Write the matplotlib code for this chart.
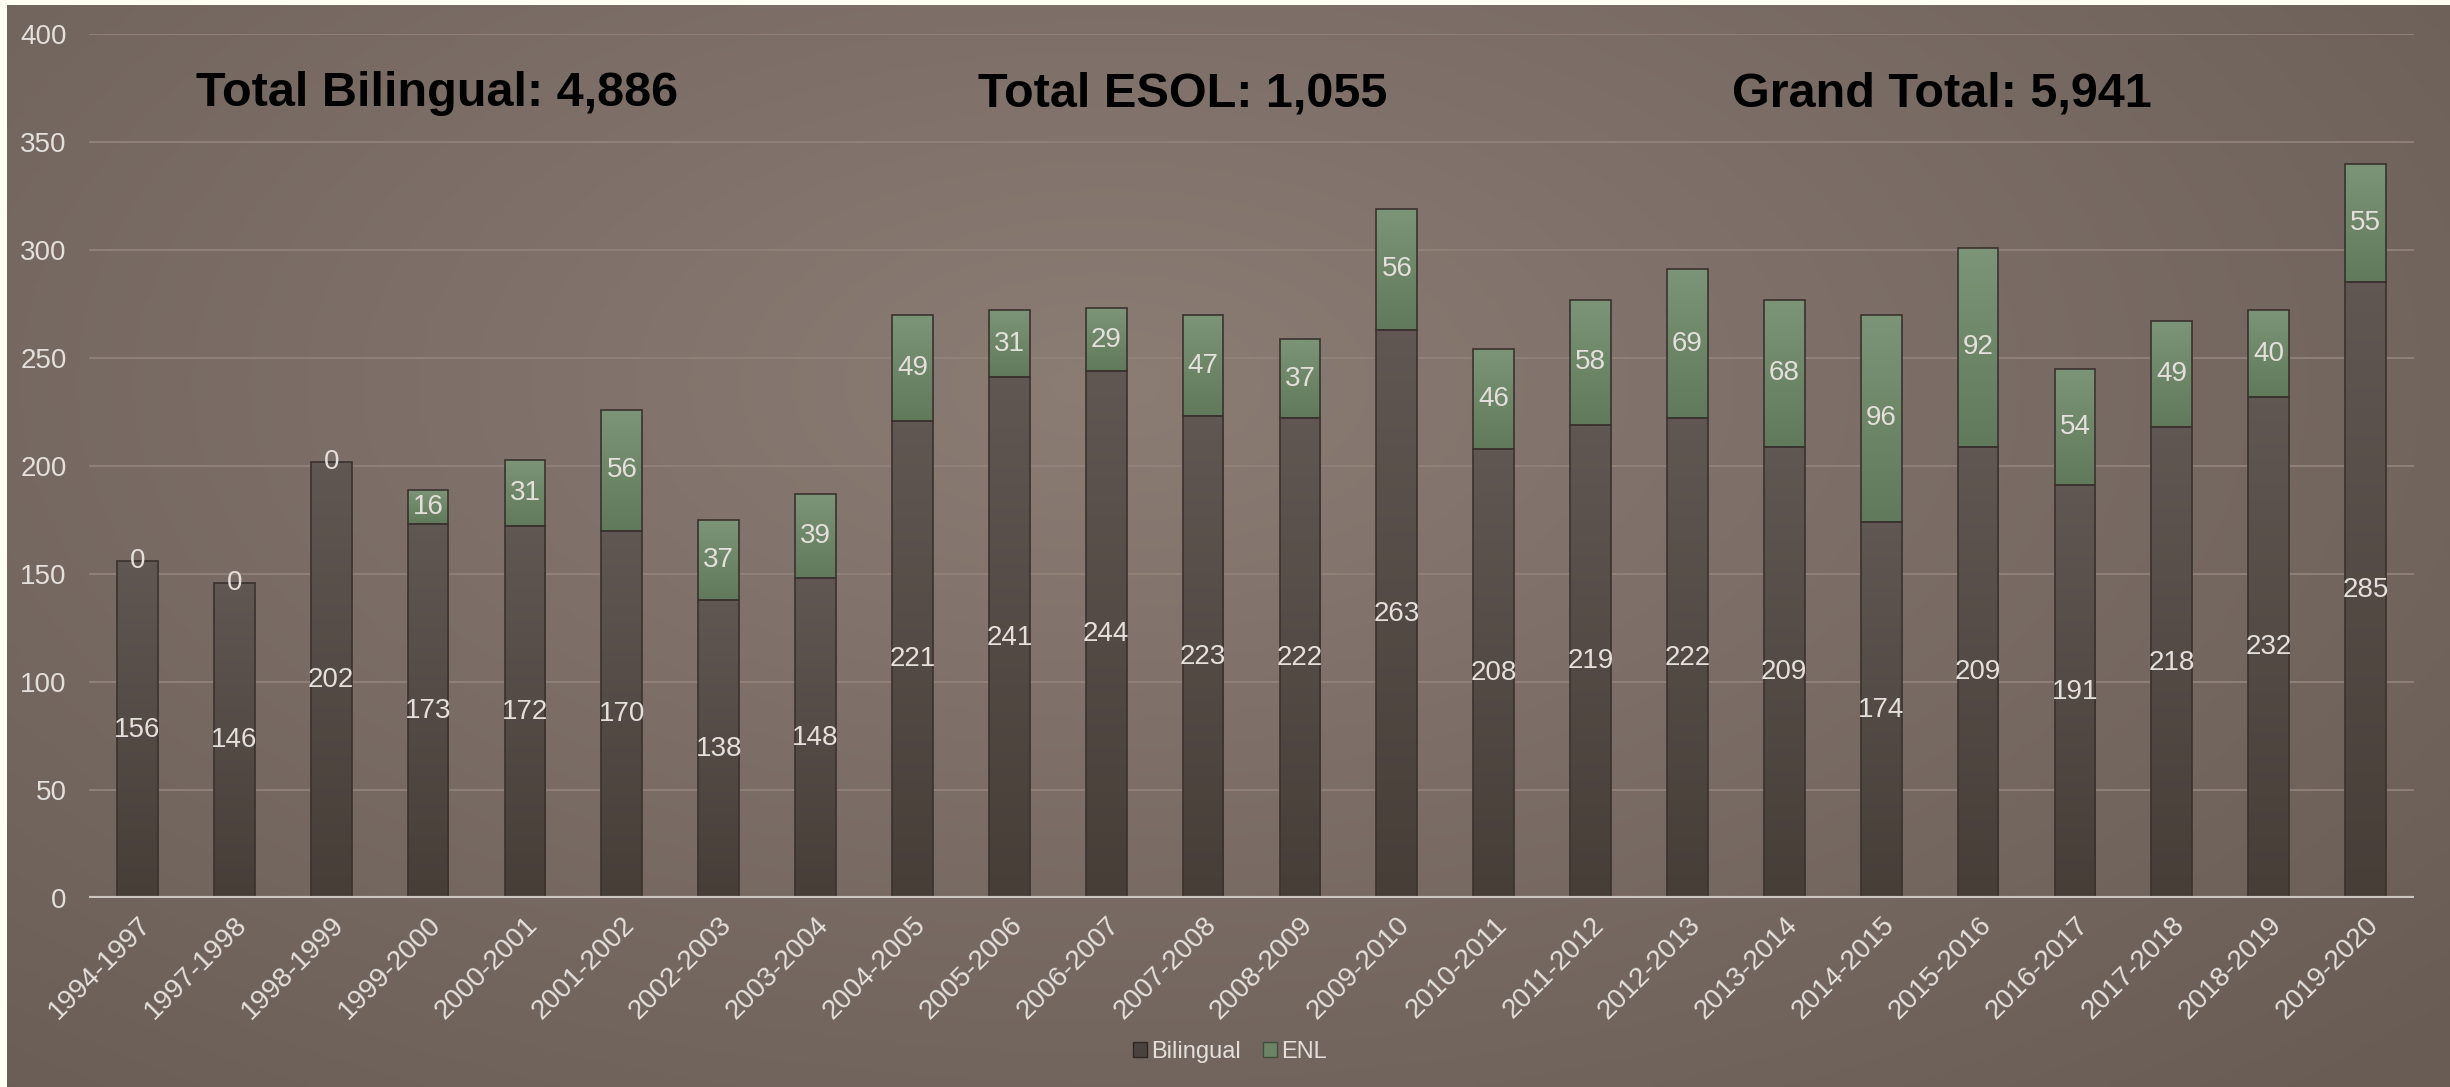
#!/usr/bin/env python3
# stacked bars: Bilingual / ENL per school year

import numpy as np
import matplotlib
matplotlib.use('Agg')
import matplotlib.pyplot as plt
from matplotlib.patches import Patch

years = ['1994-1997', '1997-1998', '1998-1999', '1999-2000', '2000-2001',
         '2001-2002', '2002-2003', '2003-2004', '2004-2005', '2005-2006',
         '2006-2007', '2007-2008', '2008-2009', '2009-2010', '2010-2011',
         '2011-2012', '2012-2013', '2013-2014', '2014-2015', '2015-2016',
         '2016-2017', '2017-2018', '2018-2019', '2019-2020']
bilingual = [156, 146, 202, 173, 172, 170, 138, 148, 221, 241, 244, 223,
             222, 263, 208, 219, 222, 209, 174, 209, 191, 218, 232, 285]
enl = [0, 0, 0, 16, 31, 56, 37, 39, 49, 31, 29, 47,
       37, 56, 46, 58, 69, 68, 96, 92, 54, 49, 40, 55]

totals_text = ['Total Bilingual: 4,886', 'Total ESOL: 1,055', 'Grand Total: 5,941']

plt.rcParams['font.family'] = ['Liberation Sans', 'DejaVu Sans']

W, H = 2450, 1087
txt_col = '#e4dfdb'

fig = plt.figure(figsize=(W/100, H/100), dpi=100)
fig.patch.set_facecolor('#fffff4')

# background with soft radial light
bg = fig.add_axes([0.003, 0.0, 0.997, 0.995])
gy, gx = np.mgrid[0:1:300j, 0:1:600j]
r = np.sqrt(((gx-0.45)/0.75)**2 + ((gy-0.35)/0.9)**2)
r = np.clip(r, 0, 1)
c_in = np.array([0x8b, 0x7c, 0x74])/255.
c_out = np.array([0x68, 0x5c, 0x55])/255.
img = c_in[None, None, :]*(1-r[..., None]) + c_out[None, None, :]*r[..., None]
bg.imshow(img, aspect='auto', extent=[0, 1, 0, 1], origin='upper')
bg.set_axis_off()

ax = fig.add_axes([89/W, 1-898/H, (2414-89)/W, (898-34)/H])
ax.patch.set_alpha(0)
x = np.arange(len(years))
bw = 0.42


def grad_bar(ax, xc, bottom, height, top_c, bot_c, z):
    if height <= 0:
        return
    p = ax.bar(xc, height, bw, bottom=bottom, color='none',
               edgecolor='#3a322e', linewidth=1.2, zorder=z+1)[0]
    g = np.linspace(0, 1, 64)[:, None, None]
    im = np.array(top_c)[None, None, :]*(1-g) + np.array(bot_c)[None, None, :]*g
    art = ax.imshow(im, aspect='auto', zorder=z,
                    extent=[xc-bw/2, xc+bw/2, bottom, bottom+height],
                    origin='upper')
    art.set_clip_path(p)


for i in range(len(years)):
    b = bilingual[i]
    e = enl[i]
    grad_bar(ax, x[i], 0, b, (0x60/255, 0x57/255, 0x52/255),
             (0x47/255, 0x3e/255, 0x38/255), 3)
    grad_bar(ax, x[i], b, e, (0x7c/255, 0x94/255, 0x77/255),
             (0x60/255, 0x7a/255, 0x5b/255), 3)
    ax.text(x[i], b/2, str(b), ha='center', va='center', color=txt_col,
            fontsize=20, zorder=6)
    ax.text(x[i], b+e/2, str(e), ha='center', va='center', color=txt_col,
            fontsize=20, zorder=6)

ax.set_xlim(-0.5, len(years)-0.5)
ax.set_ylim(0, 400)
ax.set_yticks(np.arange(0, 401, 50))
ax.yaxis.grid(True, color='#918379', linewidth=1.3, zorder=0)
ax.set_axisbelow(True)
ax.axhline(0, color='#cdc6c0', linewidth=3, zorder=7)
for s in ax.spines.values():
    s.set_visible(False)

ax.set_xticks(x)
ax.set_xticklabels(years, rotation=45, ha='right', rotation_mode='anchor')
ax.tick_params(axis='both', length=0, labelsize=20, labelcolor=txt_col)
ax.tick_params(axis='y', pad=16)
ax.tick_params(axis='x', pad=10)

tx = [437/W, 1183/W, 1942/W]
for t, xx in zip(totals_text, tx):
    fig.text(xx, 1-94/H, t, ha='center', va='center', fontsize=35,
             fontweight='bold', color='black')

handles = [Patch(facecolor='#4a423d', edgecolor='#2e2724', label='Bilingual'),
           Patch(facecolor='#6b8466', edgecolor='#3e4f3b', label='ENL')]
fig.legend(handles=handles, loc='center', bbox_to_anchor=(0.502, 1-1052/H),
           ncol=2, frameon=False, fontsize=17, labelcolor=txt_col,
           handlelength=0.6, handleheight=0.6, handletextpad=0.2,
           columnspacing=0.9)

fig.savefig('out.png', dpi=100, facecolor=fig.get_facecolor())
